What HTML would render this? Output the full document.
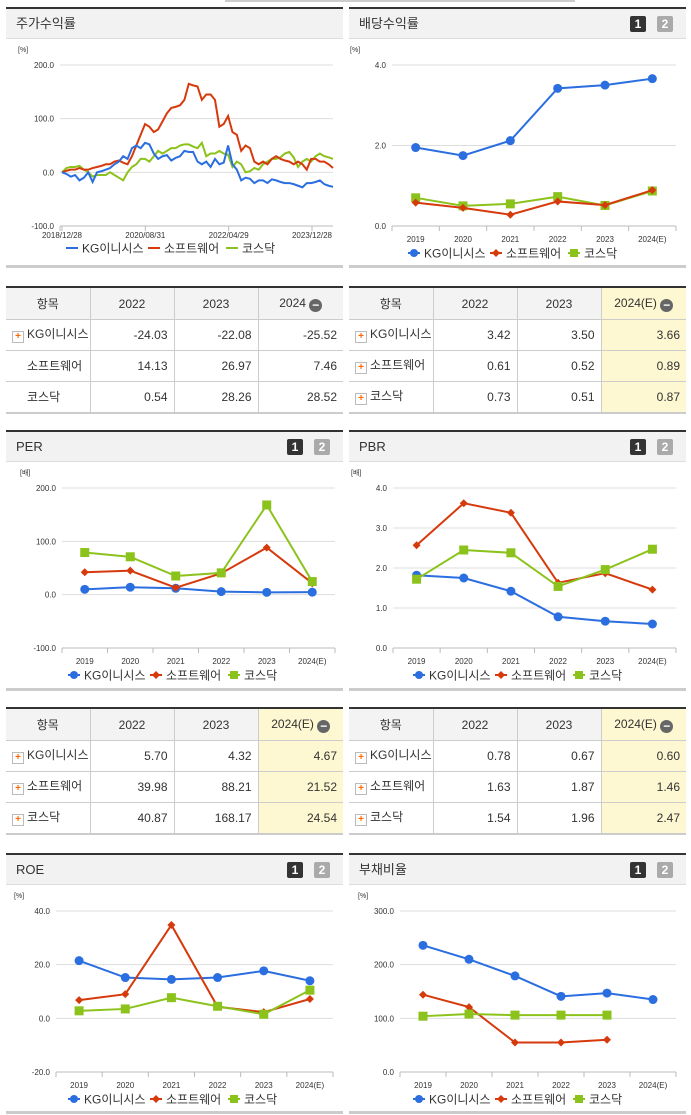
<!DOCTYPE html>
<html><head><meta charset="utf-8">
<style>
body{margin:0;width:691px;height:1115px;background:#fff;position:relative;overflow:hidden;font-family:"Liberation Sans","Noto Sans CJK KR",sans-serif;color:#333}
.hd{position:absolute;height:29px;background:#f2f2f2;border-top:2px solid #333;border-bottom:1px solid #ddd;font-size:13px;line-height:29px;box-sizing:content-box}
.hd span.t{position:absolute;left:10px}
.b{position:absolute;top:7px;width:16px;height:16px;font-size:12px;font-weight:bold;line-height:16px;text-align:center;color:#fff;border-radius:2px}
.b1{background:#333}.b2{background:#aaa}
.ft{position:absolute;height:3px;background:#ccc}
table{position:absolute;border-collapse:collapse;table-layout:fixed;font-size:12px;border-top:2px solid #333;border-bottom:2px solid #ccc}
td,th{border:1px solid #ccc;height:30px;padding:0 6px;font-weight:normal;white-space:nowrap;overflow:hidden;line-height:14px}
th{background:#f3f3f3;text-align:center;height:31px}
td{text-align:right}
td.l{text-align:left;padding-left:6px}
tr td:first-child,tr th:first-child{border-left:none}
tr td:last-child,tr th:last-child{border-right:none}
.hl{background:#fdf7d2}
.p{display:inline-block;width:10px;height:10px;border:1px solid #bbb;background:#fff;color:#f60;font-size:10px;line-height:9px;text-align:center;margin-right:3px;vertical-align:-1px;font-weight:bold}
.m{display:inline-block;width:13px;height:13px;border-radius:50%;background:#666;color:#fff;font-size:12px;line-height:12px;text-align:center;vertical-align:-2px;font-weight:bold}
</style></head><body>
<div style="position:absolute;left:225px;top:0;width:350px;height:2px;background:#ccc"></div>

<div class="hd" style="left:6px;top:7px;width:337px"><span class="t">주가수익률</span></div>
<div class="hd" style="left:349px;top:7px;width:337px"><span class="t">배당수익률</span><span class="b b1" style="left:281px">1</span><span class="b b2" style="left:308px">2</span></div>
<div class="hd" style="left:6px;top:430px;width:337px"><span class="t">PER</span><span class="b b1" style="left:281px">1</span><span class="b b2" style="left:308px">2</span></div>
<div class="hd" style="left:349px;top:430px;width:337px"><span class="t">PBR</span><span class="b b1" style="left:281px">1</span><span class="b b2" style="left:308px">2</span></div>
<div class="hd" style="left:6px;top:853px;width:337px"><span class="t">ROE</span><span class="b b1" style="left:281px">1</span><span class="b b2" style="left:308px">2</span></div>
<div class="hd" style="left:349px;top:853px;width:337px"><span class="t">부채비율</span><span class="b b1" style="left:281px">1</span><span class="b b2" style="left:308px">2</span></div>

<div class="ft" style="left:6px;top:265px;width:337px"></div>
<div class="ft" style="left:349px;top:265px;width:337px"></div>
<div class="ft" style="left:6px;top:688px;width:337px"></div>
<div class="ft" style="left:349px;top:688px;width:337px"></div>
<div class="ft" style="left:6px;top:1111px;width:337px"></div>
<div class="ft" style="left:349px;top:1111px;width:337px"></div>

<table style="left:6px;top:286px;width:337px">
<colgroup><col style="width:84px"><col style="width:84px"><col style="width:84px"><col style="width:85px"></colgroup>
<tr><th>항목</th><th>2022</th><th>2023</th><th>2024 <span class="m">−</span></th></tr>
<tr><td class="l"><span class="p">+</span>KG이니시스</td><td>-24.03</td><td>-22.08</td><td>-25.52</td></tr>
<tr><td class="l" style="padding-left:21px">소프트웨어</td><td>14.13</td><td>26.97</td><td>7.46</td></tr>
<tr><td class="l" style="padding-left:21px">코스닥</td><td>0.54</td><td>28.26</td><td>28.52</td></tr>
</table>
<table style="left:349px;top:286px;width:337px">
<colgroup><col style="width:84px"><col style="width:84px"><col style="width:84px"><col style="width:85px"></colgroup>
<tr><th>항목</th><th>2022</th><th>2023</th><th class="hl">2024(E) <span class="m">−</span></th></tr>
<tr><td class="l"><span class="p">+</span>KG이니시스</td><td>3.42</td><td>3.50</td><td class="hl">3.66</td></tr>
<tr><td class="l"><span class="p">+</span>소프트웨어</td><td>0.61</td><td>0.52</td><td class="hl">0.89</td></tr>
<tr><td class="l"><span class="p">+</span>코스닥</td><td>0.73</td><td>0.51</td><td class="hl">0.87</td></tr>
</table>
<table style="left:6px;top:707px;width:337px">
<colgroup><col style="width:84px"><col style="width:84px"><col style="width:84px"><col style="width:85px"></colgroup>
<tr><th>항목</th><th>2022</th><th>2023</th><th class="hl">2024(E) <span class="m">−</span></th></tr>
<tr><td class="l"><span class="p">+</span>KG이니시스</td><td>5.70</td><td>4.32</td><td class="hl">4.67</td></tr>
<tr><td class="l"><span class="p">+</span>소프트웨어</td><td>39.98</td><td>88.21</td><td class="hl">21.52</td></tr>
<tr><td class="l"><span class="p">+</span>코스닥</td><td>40.87</td><td>168.17</td><td class="hl">24.54</td></tr>
</table>
<table style="left:349px;top:707px;width:337px">
<colgroup><col style="width:84px"><col style="width:84px"><col style="width:84px"><col style="width:85px"></colgroup>
<tr><th>항목</th><th>2022</th><th>2023</th><th class="hl">2024(E) <span class="m">−</span></th></tr>
<tr><td class="l"><span class="p">+</span>KG이니시스</td><td>0.78</td><td>0.67</td><td class="hl">0.60</td></tr>
<tr><td class="l"><span class="p">+</span>소프트웨어</td><td>1.63</td><td>1.87</td><td class="hl">1.46</td></tr>
<tr><td class="l"><span class="p">+</span>코스닥</td><td>1.54</td><td>1.96</td><td class="hl">2.47</td></tr>
</table>

<svg id="s" width="691" height="1115" style="position:absolute;left:0;top:0;font-family:'Liberation Sans','Noto Sans CJK KR',sans-serif"></svg>
<script>
const stockKG=[0,-3,-8,-5,-15,-10,0,-18,0,2,5,8,15,20,30,25,45,50,45,55,52,35,25,30,32,22,27,30,40,38,38,20,15,20,10,25,15,18,50,15,5,-15,-10,-12,-20,-15,-15,-20,-13,-15,-18,-20,-20,-22,-25,-28,-20,-20,-18,-15,-22,-25,-27];
const stockSW=[0,3,5,5,8,5,5,8,10,12,15,15,20,22,18,15,30,50,70,90,85,75,80,95,110,120,122,125,135,165,162,160,135,145,145,135,85,90,105,75,70,40,50,45,20,15,20,15,25,30,25,22,20,15,20,15,5,25,25,20,20,15,8];
const stockKQ=[0,8,10,10,12,5,0,-8,-5,-5,-5,0,-5,-10,-15,0,10,15,25,25,20,30,40,35,40,45,45,50,52,52,48,45,55,30,35,35,40,35,33,10,20,15,0,2,8,5,15,20,25,25,28,35,38,28,10,20,25,20,30,35,30,28,25];
const stockTicks=["2018/12/28","2020/08/31","2022/04/29","2023/12/28"];
const years=["2019","2020","2021","2022","2023","2024(E)"];
const divKG=[1.95,1.75,2.12,3.42,3.50,3.66], divSW=[0.58,0.45,0.28,0.61,0.52,0.89], divKQ=[0.70,0.50,0.55,0.73,0.51,0.87];
const perKG=[10,14,12,5.70,4.32,4.67], perSW=[42,45,13,39.98,88.21,21.52], perKQ=[79,71,35,40.87,168.17,24.54];
const pbrKG=[1.82,1.75,1.42,0.78,0.67,0.60], pbrSW=[2.57,3.62,3.38,1.63,1.87,1.46], pbrKQ=[1.72,2.45,2.38,1.54,1.96,2.47];
const roeKG=[21.5,15.2,14.5,15.2,17.7,14.0], roeSW=[6.8,9.0,34.8,4.3,2.3,7.2], roeKQ=[2.8,3.5,7.7,4.5,1.5,10.5];
const debtKG=[236,210,179,141,147,135], debtSW=[144,121,55,55,60,null], debtKQ=[104,108,106,106,106,null];

const S=document.getElementById('s'),NS='http://www.w3.org/2000/svg';
const C={kg:'#2a6ee0',sw:'#d63a0c',kq:'#8cc21c'};
function el(t,a,txt){const e=document.createElementNS(NS,t);for(const k in a)e.setAttribute(k,a[k]);if(txt!=null)e.textContent=txt;S.appendChild(e);return e;}
function chart(o){
  const ys=v=>o.y0+(o.max-v)/(o.max-o.min)*(o.y1-o.y0);
  o.ticks.forEach(t=>{const y=ys(t);
    const g=el('line',{x1:o.ax,x2:o.ax2,y1:y,y2:y,stroke:'#ddd','stroke-width':1});
    
    const l=el('text',{x:o.ax-6,y:y+3,'text-anchor':'end','font-size':8,fill:'#333'},t.toFixed(1));
    });
  const u=el('text',{x:o.ax-42,y:o.y0-13,'font-size':7,fill:'#333'},o.unit);
  
  el('line',{x1:o.ax,x2:o.ax2,y1:o.y1,y2:o.y1,stroke:'#bbb'});
  return ys;
}
function catChart(o,series){
  const ys=chart(o);const n=years.length,w=(o.ax2-o.ax)/n;const xs=i=>o.ax+w*(i+0.5);
  for(let i=0;i<=n;i++)el('line',{x1:o.ax+w*i,x2:o.ax+w*i,y1:o.y1,y2:o.y1+5,stroke:'#bbb'});
  years.forEach((yr,i)=>{const t=el('text',{x:xs(i),y:o.y1+16,'text-anchor':'middle','font-size':8,fill:'#333'},yr);
    });
  series.forEach(([arr,key])=>{
    const pts=arr.map((v,i)=>v==null?null:[xs(i),ys(v)]).filter(p=>p);
    const pl=el('polyline',{points:pts.map(p=>p.join(',')).join(' '),fill:'none',stroke:C[key],'stroke-width':2});
    
    pts.forEach(([x,y])=>{let m;
      if(key=='kg')m=el('circle',{cx:x,cy:y,r:4.5,fill:C.kg});
      else if(key=='sw')m=el('polygon',{points:`${x},${y-4} ${x+4},${y} ${x},${y+4} ${x-4},${y}`,fill:C.sw});
      else m=el('rect',{x:x-4.5,y:y-4.5,width:9,height:9,fill:C.kq});
      });
  });
  legend(o.cx,o.y1+27,true);
}
function legend(cx,y,markers){
  const items=[['kg','KG이니시스'],['sw','소프트웨어'],['kq','코스닥']];
  let x=cx-112;
  items.forEach(([k,t],i)=>{
    el('line',{x1:x,x2:x+12,y1:y,y2:y,stroke:C[k],'stroke-width':2});
    if(markers){if(k=='kg')el('circle',{cx:x+6,cy:y,r:4,fill:C.kg});
      else if(k=='sw')el('polygon',{points:`${x+6},${y-4} ${x+10},${y} ${x+6},${y+4} ${x+2},${y}`,fill:C.sw});
      else el('rect',{x:x+2,y:y-4,width:8,height:8,fill:C.kq});}
    const tx=el('text',{x:x+16,y:y+4.5,'font-size':12,fill:'#333'},t);
    
    x+=[82,78,0][i];
  });
}
(function(){
  const o={ax:60,ax2:333,y0:65,y1:226,max:200,min:-100,ticks:[200,100,0,-100],unit:'[%]'};
  const ys=chart(o);
  el('line',{x1:o.ax,x2:o.ax,y1:o.y1,y2:o.y1+5,stroke:'#bbb'});
  const x0=62,x1=333;
  stockTicks.forEach((t,i)=>{const x=x0+i*(312-62)/3;
    el('line',{x1:x,x2:x,y1:o.y1,y2:o.y1+5,stroke:'#bbb'});
    const l=el('text',{x:x,y:o.y1+12,'text-anchor':'middle','font-size':8,fill:'#333'},t);
    });
  [[stockKQ,'kq'],[stockSW,'sw'],[stockKG,'kg']].forEach(([a,k])=>{
    const pts=a.map((v,i)=>[x0+i*(x1-x0)/(a.length-1),ys(v)]);
    const pl=el('polyline',{points:pts.map(p=>p.join(',')).join(' '),fill:'none',stroke:C[k],'stroke-width':2});
    });
  legend(178,248,false);
})();
catChart({ax:392,ax2:676,y0:65,y1:226,max:4,min:0,ticks:[4,2,0],unit:'[%]',cx:520},[[divKG,'kg'],[divKQ,'kq'],[divSW,'sw']]);
catChart({ax:62,ax2:335,y0:488,y1:648,max:200,min:-100,ticks:[200,100,0,-100],unit:'[배]',cx:180},[[perKG,'kg'],[perSW,'sw'],[perKQ,'kq']]);
catChart({ax:393,ax2:676,y0:488,y1:648,max:4,min:0,ticks:[4,3,2,1,0],unit:'[배]',cx:525},[[pbrKG,'kg'],[pbrSW,'sw'],[pbrKQ,'kq']]);
catChart({ax:56,ax2:333,y0:911,y1:1072,max:40,min:-20,ticks:[40,20,0,-20],unit:'[%]',cx:180},[[roeKG,'kg'],[roeSW,'sw'],[roeKQ,'kq']]);
catChart({ax:400,ax2:676,y0:911,y1:1072,max:300,min:0,ticks:[300,200,100,0],unit:'[%]',cx:525},[[debtKG,'kg'],[debtSW,'sw'],[debtKQ,'kq']]);
</script>
</body></html>
